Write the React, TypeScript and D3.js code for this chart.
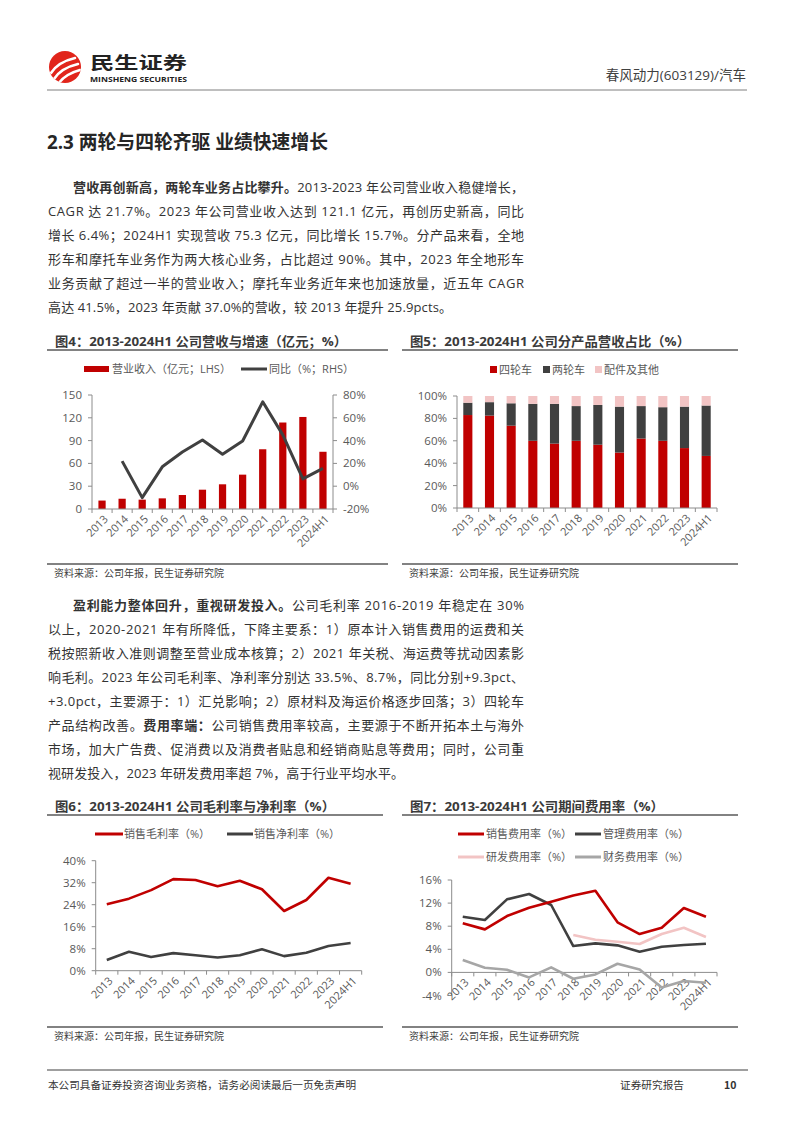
import * as d3 from 'd3';

const YEARS = ['2013', '2014', '2015', '2016', '2017', '2018', '2019', '2020', '2021', '2022', '2023', '2024H1'];
// 图4
const REVENUE = [11.1, 13.5, 12.3, 14.0, 18.4, 25.4, 32.5, 45.2, 78.6, 113.8, 121.1, 75.3];
const REVENUE_YOY: (number | null)[] = [null, 22.0, -10.0, 17.0, 30.0, 40.5, 28.0, 39.6, 74.0, 45.0, 6.4, 15.7];
const REV_TICKS = [0, 30, 60, 90, 120, 150];
const YOY_TICKS = [-20, 0, 20, 40, 60, 80];
// 图5
const SHARE_ATV = [83, 82.5, 73.5, 60, 57.5, 60, 56.5, 49.5, 62, 60, 53.5, 46.5];
const SHARE_MOTO = [11, 12, 20, 33, 35.5, 31, 35.5, 41, 29, 30, 37, 45];
const SHARE_OTHER = [6, 5.5, 6.5, 7, 7, 9, 8, 9.5, 9, 10, 9.5, 8.5];
const SHARE_TICKS = [0, 20, 40, 60, 80, 100];
// 图6
const GROSS_MARGIN = [24.2, 26.2, 29.3, 33.3, 33.0, 30.7, 32.7, 29.6, 21.7, 25.7, 33.8, 31.6];
const NET_MARGIN = [3.9, 6.9, 5.0, 6.4, 5.6, 4.8, 5.6, 7.8, 5.3, 6.5, 9.0, 10.1];
const MARGIN_TICKS = [0, 8, 16, 24, 32, 40];
// 图7
const SELLING_RATE = [8.5, 7.45, 9.76, 11.2, 12.25, 13.3, 14.15, 8.67, 6.64, 7.74, 11.15, 9.65];
const ADMIN_RATE = [9.65, 9.07, 12.65, 13.58, 11.67, 4.56, 5.03, 4.68, 3.58, 4.45, 4.74, 4.97];
const RD_RATE: (number | null)[] = [null, null, null, null, null, 6.47, 5.66, 5.31, 4.91, 6.64, 7.74, 6.12];
const FIN_RATE = [2.14, 0.81, 0.46, -0.87, 0.87, -1.1, -0.35, 1.5, 0.52, -2.6, -1.5, -1.8];
const EXPENSE_TICKS = [-4, 0, 4, 8, 12, 16];

type Seg = { t: string; b?: boolean };
const PARA1: Seg[][] = [
  [{ t: '营收再创新高，两轮车业务占比攀升。', b: true }, { t: '2013-2023 年公司营业收入稳健增长，' }],
  [{ t: 'CAGR 达 21.7%。2023 年公司营业收入达到 121.1 亿元，再创历史新高，同比' }],
  [{ t: '增长 6.4%；2024H1 实现营收 75.3 亿元，同比增长 15.7%。分产品来看，全地' }],
  [{ t: '形车和摩托车业务作为两大核心业务，占比超过 90%。其中，2023 年全地形车' }],
  [{ t: '业务贡献了超过一半的营业收入；摩托车业务近年来也加速放量，近五年 CAGR' }],
  [{ t: '高达 41.5%，2023 年贡献 37.0%的营收，较 2013 年提升 25.9pcts。' }],
];
const PARA2: Seg[][] = [
  [{ t: '盈利能力整体回升，重视研发投入。', b: true }, { t: '公司毛利率 2016-2019 年稳定在 30%' }],
  [{ t: '以上，2020-2021 年有所降低，下降主要系：1）原本计入销售费用的运费和关' }],
  [{ t: '税按照新收入准则调整至营业成本核算；2）2021 年关税、海运费等扰动因素影' }],
  [{ t: '响毛利。2023 年公司毛利率、净利率分别达 33.5%、8.7%，同比分别+9.3pct、' }],
  [{ t: '+3.0pct，主要源于：1）汇兑影响；2）原材料及海运价格逐步回落；3）四轮车' }],
  [{ t: '产品结构改善。' }, { t: '费用率端：', b: true }, { t: '公司销售费用率较高，主要源于不断开拓本土与海外' }],
  [{ t: '市场，加大广告费、促消费以及消费者贴息和经销商贴息等费用；同时，公司重' }],
  [{ t: '视研发投入，2023 年研发费用率超 7%，高于行业平均水平。' }],
];

const FONT = '"Open Sans", "Noto Sans CJK SC", sans-serif';
const CJK = '"Noto Sans CJK SC", sans-serif';
const RED = '#C00000';
const DARK = '#404040';
const PINK = '#F2C4C4';
const GREY = '#A6A6A6';
const AXIS = '#8c8c8c';
const LABEL = '#595959';

function Paragraph({ lines, top, lastEnd }: { lines: Seg[][]; top: number; lastEnd: number }) {
  return (
    <g fontSize={13} fill="#333">
      {lines.map((segs, i) => {
        const x0 = i === 0 ? 73 : 48;
        const x1 = i === lines.length - 1 ? lastEnd : 524;
        return (
          <text key={i} x={x0} y={top + i * 24} textLength={x1 - x0} lengthAdjust="spacing">
            {segs.map((s, j) => (
              <tspan key={j} fontWeight={s.b ? 700 : 400}>{s.t}</tspan>
            ))}
          </text>
        );
      })}
    </g>
  );
}

function Frame({ x, w, top, bottom, title, titleLen }: { x: number; w: number; top: number; bottom: number; title: string; titleLen: number }) {
  return (
    <g>
      <text x={x + 8} y={top} fontSize={13} fontWeight={700} fill="#3a3a3a" textLength={titleLen} lengthAdjust="spacingAndGlyphs">{title}</text>
      <line x1={x} x2={x + w} y1={top + 4} y2={top + 4} stroke="#595959" strokeWidth={1.6} />
      <line x1={x} x2={x + w} y1={bottom} y2={bottom} stroke="#595959" strokeWidth={1.6} />
      <text x={x + 7} y={bottom + 13} fontSize={10} fill="#404040" fontFamily={CJK}>资料来源：公司年报，民生证券研究院</text>
    </g>
  );
}

function XAxis({ x, y }: { x: d3.ScaleBand<string>; y: number }) {
  const [r0, r1] = x.range();
  const step = x.step();
  return (
    <g>
      <line x1={r0} x2={r1} y1={y} y2={y} stroke={AXIS} />
      {d3.range(YEARS.length + 1).map((i) => (
        <line key={i} x1={r0 + i * step} x2={r0 + i * step} y1={y} y2={y + 4} stroke={AXIS} />
      ))}
      {YEARS.map((c) => (
        <text key={c} transform={`translate(${x(c)! + x.bandwidth() / 2 + 4},${y + 8}) rotate(-45)`}
          textAnchor="end" dy="0.35em" fontSize={11} fill={LABEL}>{c}</text>
      ))}
    </g>
  );
}

function YAxis({ y, ticks, x, side, fmt }: { y: d3.ScaleLinear<number, number>; ticks: number[]; x: number; side: 'left' | 'right'; fmt: (v: number) => string }) {
  const d = side === 'left' ? -1 : 1;
  const [a, b] = y.range();
  return (
    <g>
      <line x1={x} x2={x} y1={a} y2={b} stroke={AXIS} />
      {ticks.map((t) => (
        <g key={t}>
          <line x1={x} x2={x + d * 4} y1={y(t)} y2={y(t)} stroke={AXIS} />
          <text x={x + d * 10} y={y(t)} dy="0.35em" textAnchor={side === 'left' ? 'end' : 'start'} fontSize={11.5} fill={LABEL}>{fmt(t)}</text>
        </g>
      ))}
    </g>
  );
}

function Chart4() {
  const x = d3.scaleBand<string>().domain(YEARS).range([92, 333]);
  const yL = d3.scaleLinear().domain([0, 150]).range([509, 395]);
  const yR = d3.scaleLinear().domain([-20, 80]).range([509, 395]);
  const cx = (i: number) => x(YEARS[i])! + x.bandwidth() / 2;
  const bw = x.bandwidth() * 0.36;
  const line = d3.line<number | null>().defined((v) => v !== null).x((_, i) => cx(i)).y((v) => yR(v as number));
  return (
    <g>
      <Frame x={47} w={341} top={346} bottom={564} title="图4：2013-2024H1 公司营收与增速（亿元；%）" titleLen={292} />
      <rect x={84} y={366} width={25} height={6} fill={RED} />
      <text x={112} y={369} dy="0.35em" fontSize={11} fill={LABEL}>营业收入（亿元；LHS）</text>
      <line x1={241} x2={267} y1={369} y2={369} stroke={DARK} strokeWidth={3} />
      <text x={269} y={369} dy="0.35em" fontSize={11} fill={LABEL}>同比（%；RHS）</text>
      {REVENUE.map((v, i) => (
        <rect key={i} x={cx(i) - bw / 2} y={yL(v)} width={bw} height={yL(0) - yL(v)} fill={RED} />
      ))}
      <path d={line(REVENUE_YOY) ?? ''} fill="none" stroke={DARK} strokeWidth={3} strokeLinejoin="round" />
      <YAxis y={yL} ticks={REV_TICKS} x={92} side="left" fmt={(v) => `${v}`} />
      <YAxis y={yR} ticks={YOY_TICKS} x={333} side="right" fmt={(v) => `${v}%`} />
      <XAxis x={x} y={509} />
    </g>
  );
}

function Chart5() {
  const x = d3.scaleBand<string>().domain(YEARS).range([457, 717]);
  const y = d3.scaleLinear().domain([0, 100]).range([508, 396]);
  const bw = x.bandwidth() * 0.42;
  const rows = YEARS.map((c, i) => ({ c, atv: SHARE_ATV[i], moto: SHARE_MOTO[i], other: SHARE_OTHER[i] }));
  const stack = d3.stack<typeof rows[0]>().keys(['atv', 'moto', 'other'])(rows);
  const colors = [RED, DARK, PINK];
  const legend = [['四轮车', 490], ['两轮车', 543], ['配件及其他', 595]] as const;
  return (
    <g>
      <Frame x={402} w={336} top={346} bottom={564} title="图5：2013-2024H1 公司分产品营收占比（%）" titleLen={280} />
      {legend.map(([t, lx], i) => (
        <g key={t}>
          <rect x={lx} y={366} width={7} height={7} fill={colors[i]} />
          <text x={lx + 9} y={370} dy="0.35em" fontSize={11} fill={LABEL}>{t}</text>
        </g>
      ))}
      {stack.map((s, k) => (
        <g key={k} fill={colors[k]}>
          {s.map((d, i) => (
            <rect key={i} x={x(YEARS[i])! + (x.bandwidth() - bw) / 2} y={y(d[1])} width={bw} height={y(d[0]) - y(d[1])} />
          ))}
        </g>
      ))}
      <YAxis y={y} ticks={SHARE_TICKS} x={457} side="left" fmt={(v) => `${v}%`} />
      <XAxis x={x} y={508} />
    </g>
  );
}

function Chart6() {
  const x = d3.scaleBand<string>().domain(YEARS).range([95.7, 361.7]);
  const y = d3.scaleLinear().domain([0, 40]).range([970.7, 860.7]);
  const line = d3.line<number>().x((_, i) => x(YEARS[i])! + x.bandwidth() / 2).y((v) => y(v));
  return (
    <g>
      <Frame x={47} w={336} top={811} bottom={1027} title="图6：2013-2024H1 公司毛利率与净利率（%）" titleLen={280} />
      <line x1={95} x2={123} y1={834} y2={834} stroke={RED} strokeWidth={3} />
      <text x={124} y={834} dy="0.35em" fontSize={11} fill={LABEL}>销售毛利率（%）</text>
      <line x1={227} x2={253} y1={834} y2={834} stroke={DARK} strokeWidth={3} />
      <text x={254} y={834} dy="0.35em" fontSize={11} fill={LABEL}>销售净利率（%）</text>
      <path d={line(GROSS_MARGIN) ?? ''} fill="none" stroke={RED} strokeWidth={2.6} strokeLinejoin="round" />
      <path d={line(NET_MARGIN) ?? ''} fill="none" stroke={DARK} strokeWidth={2.6} strokeLinejoin="round" />
      <YAxis y={y} ticks={MARGIN_TICKS} x={95.7} side="left" fmt={(v) => `${v}%`} />
      <XAxis x={x} y={970.7} />
    </g>
  );
}

function Chart7() {
  const x = d3.scaleBand<string>().domain(YEARS).range([451.7, 717]);
  const y = d3.scaleLinear().domain([-4, 16]).range([995.5, 880]);
  const line = d3.line<number | null>().defined((v) => v !== null).x((_, i) => x(YEARS[i])! + x.bandwidth() / 2).y((v) => y(v as number));
  const series = [
    { name: '财务费用率（%）', data: FIN_RATE, color: GREY },
    { name: '研发费用率（%）', data: RD_RATE, color: PINK },
    { name: '管理费用率（%）', data: ADMIN_RATE, color: DARK },
    { name: '销售费用率（%）', data: SELLING_RATE, color: RED },
  ];
  const legend = [
    { s: series[3], lx: 458, ly: 834 }, { s: series[2], lx: 575, ly: 834 },
    { s: series[1], lx: 458, ly: 857 }, { s: series[0], lx: 575, ly: 857 },
  ];
  return (
    <g>
      <Frame x={402} w={336} top={811} bottom={1027} title="图7：2013-2024H1 公司期间费用率（%）" titleLen={254} />
      {legend.map(({ s, lx, ly }) => (
        <g key={s.name}>
          <line x1={lx} x2={lx + 26} y1={ly} y2={ly} stroke={s.color} strokeWidth={3} />
          <text x={lx + 28} y={ly} dy="0.35em" fontSize={11} fill={LABEL}>{s.name}</text>
        </g>
      ))}
      <YAxis y={y} ticks={EXPENSE_TICKS} x={451.7} side="left" fmt={(v) => `${v}%`} />
      <XAxis x={x} y={y(0)} />
      {series.map((s) => (
        <path key={s.name} d={line(s.data) ?? ''} fill="none" stroke={s.color} strokeWidth={2.6} strokeLinejoin="round" />
      ))}
    </g>
  );
}

function Header() {
  return (
    <g>
      <clipPath id="logoClip"><circle cx={65} cy={67} r={16} /></clipPath>
      <circle cx={65} cy={67} r={16} fill="#E1251B" />
      <g clipPath="url(#logoClip)" fill="none" stroke="#fff" strokeWidth={2.6} strokeLinecap="round">
        <path d="M51,73 Q58,62 75,58" />
        <path d="M54,79 Q61,68 78,64" />
        <path d="M58,84 Q65,74 80,70" />
      </g>
      <text x={90} y={69} fontSize={17} fontWeight={700} fill="#222" fontFamily={CJK} textLength={97} lengthAdjust="spacingAndGlyphs">民生证券</text>
      <text x={90} y={82} fontSize={7.5} fontWeight={700} fill="#222" fontFamily={FONT} textLength={97} lengthAdjust="spacingAndGlyphs">MINSHENG SECURITIES</text>
      <text x={746} y={80} textAnchor="end" fontSize={13.5} fill="#404040">春风动力(603129)/汽车</text>
      <line x1={47} x2={747} y1={90} y2={90} stroke="#7f7f7f" strokeWidth={1} />
    </g>
  );
}

function Footer() {
  return (
    <g fontFamily={CJK} fontSize={10.5} fill="#333">
      <line x1={47} x2={748} y1={1070} y2={1070} stroke="#7f7f7f" strokeWidth={1.5} />
      <text x={48} y={1089} textLength={308} lengthAdjust="spacingAndGlyphs">本公司具备证券投资咨询业务资格，请务必阅读最后一页免责声明</text>
      <text x={620} y={1089} textLength={64} lengthAdjust="spacingAndGlyphs">证券研究报告</text>
      <text x={724} y={1089} fontWeight={700}>10</text>
    </g>
  );
}

export default function App() {
  return (
    <div style={{ position: 'absolute', left: 0, top: 0, background: '#fff' }}>
      <svg width={794} height={1123} viewBox="0 0 794 1123" fontFamily={FONT} style={{ display: 'block' }}>
        <rect width={794} height={1123} fill="#fff" />
        <Header />
        <text x={47} y={148.5} fontSize={19} fontWeight={700} fill="#262626" textLength={281} lengthAdjust="spacingAndGlyphs">2.3 两轮与四轮齐驱 业绩快速增长</text>
        <Paragraph lines={PARA1} top={191.5} lastEnd={452} />
        <Chart4 />
        <Chart5 />
        <Paragraph lines={PARA2} top={609.5} lastEnd={404} />
        <Chart6 />
        <Chart7 />
        <Footer />
      </svg>
    </div>
  );
}
